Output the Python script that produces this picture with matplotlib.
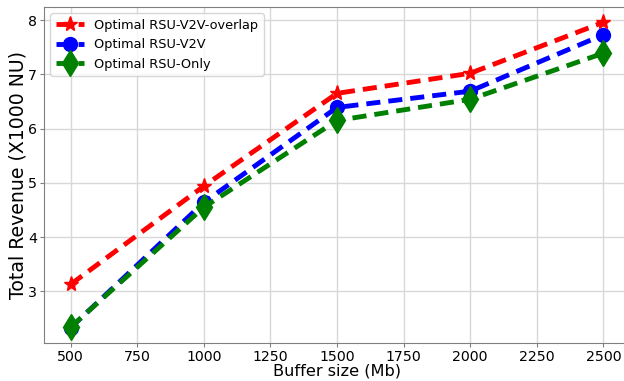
import matplotlib
matplotlib.use("Agg")
import matplotlib.pyplot as plt

buffer_sizes = [500, 1000, 1500, 2000, 2500]
rev_overlap = [3.13, 4.94, 6.65, 7.02, 7.96]
rev_v2v = [2.33, 4.64, 6.39, 6.69, 7.73]
rev_only = [2.34, 4.55, 6.15, 6.54, 7.39]

fig = plt.figure(figsize=(6.24, 3.81), dpi=100)
ax = fig.add_axes([44 / 624, 1 - 343 / 381, 586 / 624, 336 / 381])

dash = (0, (2.9, 1.65))
ax.plot(buffer_sizes, rev_overlap, color="red", linestyle=dash, marker="*",
        markersize=11, linewidth=3.5, label="Optimal RSU-V2V-overlap")
ax.plot(buffer_sizes, rev_v2v, color="blue", linestyle=dash, marker="o",
        markersize=10, linewidth=3.5, label="Optimal RSU-V2V")
ax.plot(buffer_sizes, rev_only, color="green", linestyle=dash, marker="d",
        markersize=13, linewidth=3.5, label="Optimal RSU-Only")

ax.set_xlim(400, 2600)
ax.set_xticks([500, 750, 1000, 1250, 1500, 1750, 2000, 2250, 2500])
ax.set_xlabel("Buffer size (Mb)", fontsize=11.6)
ax.xaxis.set_label_coords(0.5, -0.061)
ax.set_ylabel("Total Revenue (X1000 NU)", fontsize=13.6)
ax.yaxis.set_label_coords(-0.028, 0.5)
ax.tick_params(labelsize=10.2, color="#808080", length=3, pad=2)
ax.grid(True, color="#d8d8d8", linewidth=1)
for s in ax.spines.values():
    s.set_color("#808080")
ax.legend(loc="upper left", fontsize=9.3, framealpha=0.8,
          borderaxespad=0.5, handlelength=2.2)

fig.savefig("out.png", dpi=100)
